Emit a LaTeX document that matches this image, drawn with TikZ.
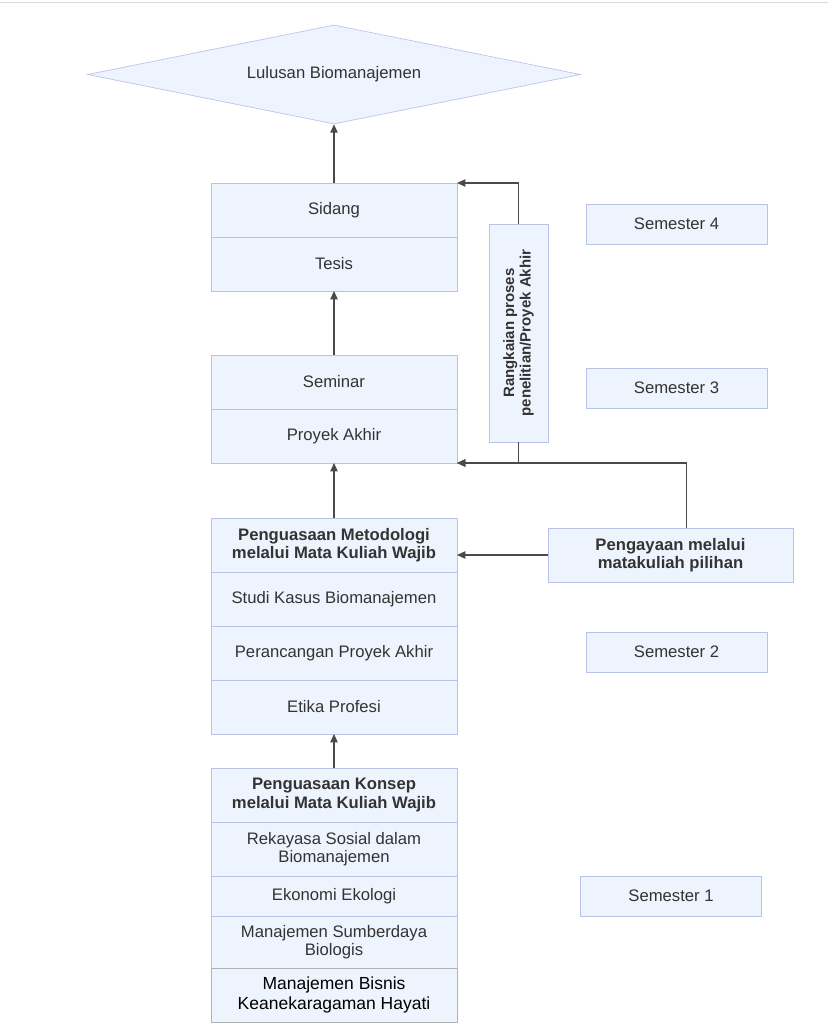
\documentclass[tikz,border=0pt]{standalone}
\usepackage{fontspec}
\setmainfont{Liberation Sans}
\usetikzlibrary{positioning, arrows.meta, shapes.geometric, calc}
\definecolor{boxfill}{HTML}{EEF4FD}
\definecolor{boxline}{HTML}{B9C3E8}
\definecolor{wirecol}{HTML}{4A4A4A}
\definecolor{ink}{HTML}{333333}

\begin{document}
\begin{tikzpicture}[
        x=0.6pt, y=-0.6pt,
        >={Triangle[length=5pt, width=4.4pt]},
        node distance=0pt,
        every node/.style={text=ink, font=\fontsize{10}{11}\selectfont},
        row/.style={draw=boxline, fill=boxfill, minimum width=147.6pt, minimum height=32.4pt, align=center, inner sep=2pt, outer sep=0pt},
        head/.style={row, font=\fontsize{10}{11}\selectfont\bfseries},
        semester/.style={draw=boxline, fill=boxfill, minimum width=108.6pt, minimum height=24pt},
        goal/.style={diamond, aspect=5, draw=boxline, fill=boxfill, minimum width=295.8pt, minimum height=59.4pt, inner sep=0pt},
        wire/.style={draw=wirecol, line width=0.7pt},
    ]
        \useasboundingbox (0,0) rectangle (828,1024);
        \draw[black!15] (0,2) -- (828,2);

        % Draw the goal node
        \node[goal] (lulusan) at (334,74.5) {Lulusan Biomanajemen};

        % Semester 4 column
        \node[row] (sidang) at (334,210) {Sidang};
        \node[row, below=of sidang] (tesis) {Tesis};

        % Semester 3 column
        \node[row] (seminar) at (334,382) {Seminar};
        \node[row, below=of seminar] (proyek) {Proyek Akhir};

        % Semester 2 column
        \node[head] (metodologi) at (334,545) {Penguasaan Metodologi\\melalui Mata Kuliah Wajib};
        \node[row, below=of metodologi] (studi) {Studi Kasus Biomanajemen};
        \node[row, below=of studi] (rancang) {Perancangan Proyek Akhir};
        \node[row, below=of rancang] (etika) {Etika Profesi};

        % Semester 1 column
        \node[head] (konsep) at (334,795) {Penguasaan Konsep\\melalui Mata Kuliah Wajib};
        \node[row, below=of konsep] (rekayasa) {Rekayasa Sosial dalam\\Biomanajemen};
        \node[row, below=of rekayasa, minimum height=24pt] (ekologi) {Ekonomi Ekologi};
        \node[row, below=of ekologi, minimum height=31.2pt] (sumberdaya) {Manajemen Sumberdaya\\Biologis};
        \node[row, below=of sumberdaya, draw=black!30, text=black, font=\fontsize{10.5}{11.5}\selectfont] (bisnis) {Manajemen Bisnis\\Keanekaragaman Hayati};

        % Semester labels
        \node[semester] (sem4) at (676.5,224) {Semester 4};
        \node[semester] (sem3) at (676.5,388) {Semester 3};
        \node[semester] (sem2) at (676.5,652) {Semester 2};
        \node[semester] (sem1) at (671,896) {Semester 1};

        % Side boxes
        \node[draw=boxline, fill=boxfill, rotate=90, minimum width=130.8pt, minimum height=35.4pt, align=center,
            font=\fontsize{9}{10}\selectfont\bfseries] (rangkaian) at (518.5,333) {Rangkaian proses\\penelitian/Proyek Akhir};
        \node[head, minimum width=147pt] (pengayaan) at (670.5,555) {Pengayaan melalui\\matakuliah pilihan};

        % Connect the columns upwards
        \draw[wire, ->] (sidang.north) -- (lulusan.south);
        \draw[wire, ->] (seminar.north) -- (tesis.south);
        \draw[wire, ->] (metodologi.north) -- (proyek.south);
        \draw[wire, ->] (konsep.north) -- (etika.south);

        % Side connections
        \draw[wire, ->] (rangkaian.east) |- (sidang.north east);
        \draw[wire, ->] (rangkaian.west) |- (proyek.south east);
        \draw[wire, ->] ([xshift=9.6pt]pengayaan.north) |- (proyek.south east);
        \draw[wire, ->] (pengayaan.west) -- (pengayaan.west -| metodologi.east);
\end{tikzpicture}
\end{document}
